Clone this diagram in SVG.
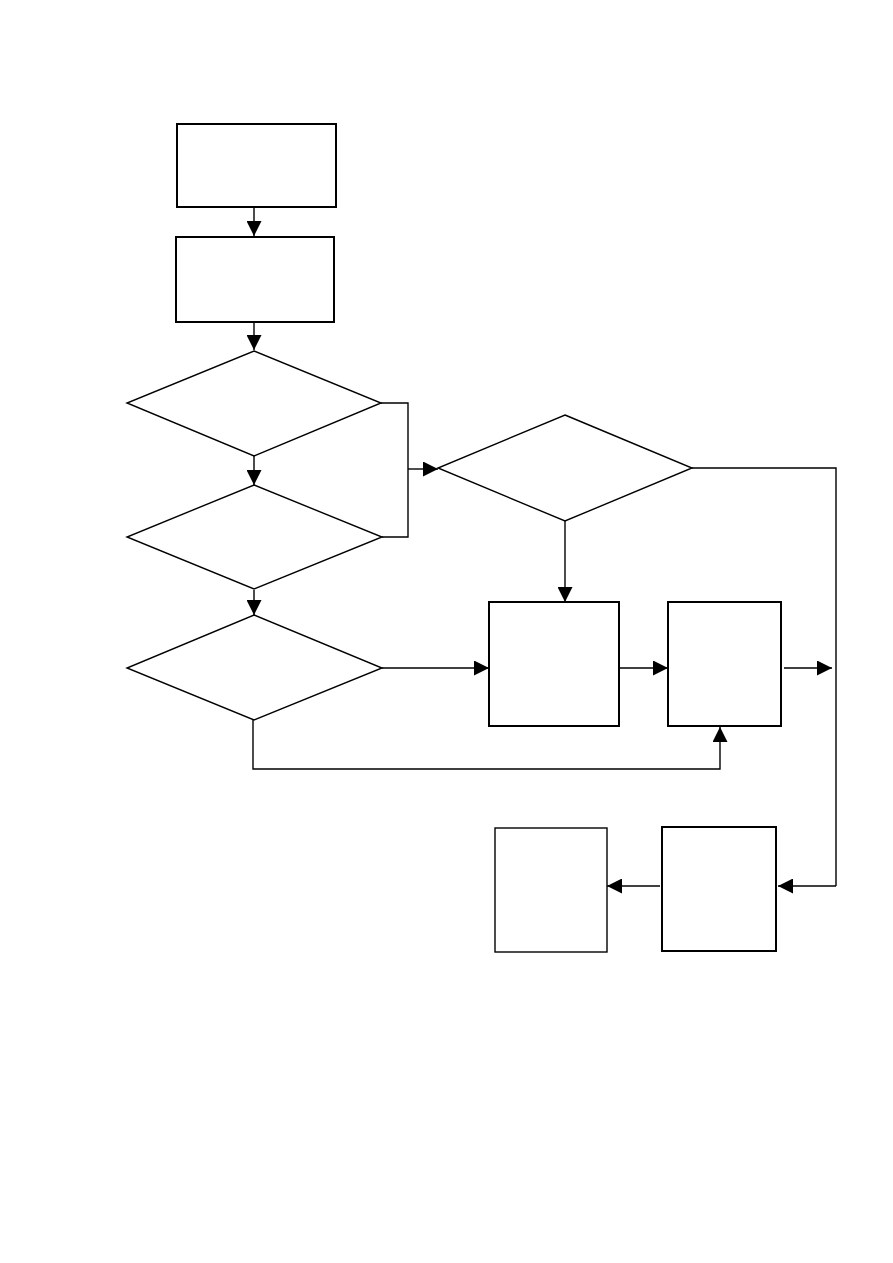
<svg xmlns="http://www.w3.org/2000/svg" width="893" height="1263" viewBox="0 0 893 1263">
<style>
.box{fill:#fff;stroke:#000;stroke-width:2}
.thin{fill:#fff;stroke:#000;stroke-width:1.4}
.dia{fill:#fff;stroke:#000;stroke-width:1.4}
.ln{fill:none;stroke:#000;stroke-width:1.4}
.ar{fill:none;stroke:#000;stroke-width:1.4;marker-end:url(#ah)}
</style>
<defs>
<marker id="ah" markerUnits="userSpaceOnUse" markerWidth="15" markerHeight="15" refX="15" refY="7.5" orient="auto">
<path d="M0,0 L15,7.5 L0,15 z" fill="#000"/>
</marker>
</defs>
<rect width="893" height="1263" fill="#fff"/>
<g id="connectors">
<path class="ar" d="M254,208 V236"/>
<path class="ar" d="M254,323 V350"/>
<path class="ar" d="M254,456 V485"/>
<path class="ar" d="M254,590 V615"/>
<path class="ln" d="M381,403 H408 V537 H382"/>
<path class="ar" d="M408,469 H438"/>
<path class="ln" d="M692,468 H836 V886"/>
<path class="ar" d="M565,521 V602"/>
<path class="ar" d="M382,668 H489"/>
<path class="ar" d="M620,668 H668"/>
<path class="ar" d="M784,668 H832"/>
<path class="ar" d="M253,720 V769 H720 V727"/>
<path class="ar" d="M836,886 H778"/>
<path class="ar" d="M660,886 H607"/>
</g>
<g id="n1"><rect class="box" x="177" y="124" width="159" height="83"/></g>
<g id="n2"><rect class="box" x="176" y="237" width="158" height="85"/></g>
<g id="d1"><polygon class="dia" points="254,351 381,403 254,456 127,403"/></g>
<g id="d2"><polygon class="dia" points="254,485 382,537 254,589 127,537"/></g>
<g id="d3"><polygon class="dia" points="565,415 692,468 565,521 438,468"/></g>
<g id="d4"><polygon class="dia" points="254,615 382,668 254,720 127,668"/></g>
<g id="n3"><rect class="box" x="489" y="602" width="130" height="124"/></g>
<g id="n4"><rect class="box" x="668" y="602" width="113" height="124"/></g>
<g id="n5"><rect class="box" x="662" y="827" width="114" height="124"/></g>
<g id="n6"><rect class="thin" x="495" y="828" width="112" height="124"/></g>
</svg>
